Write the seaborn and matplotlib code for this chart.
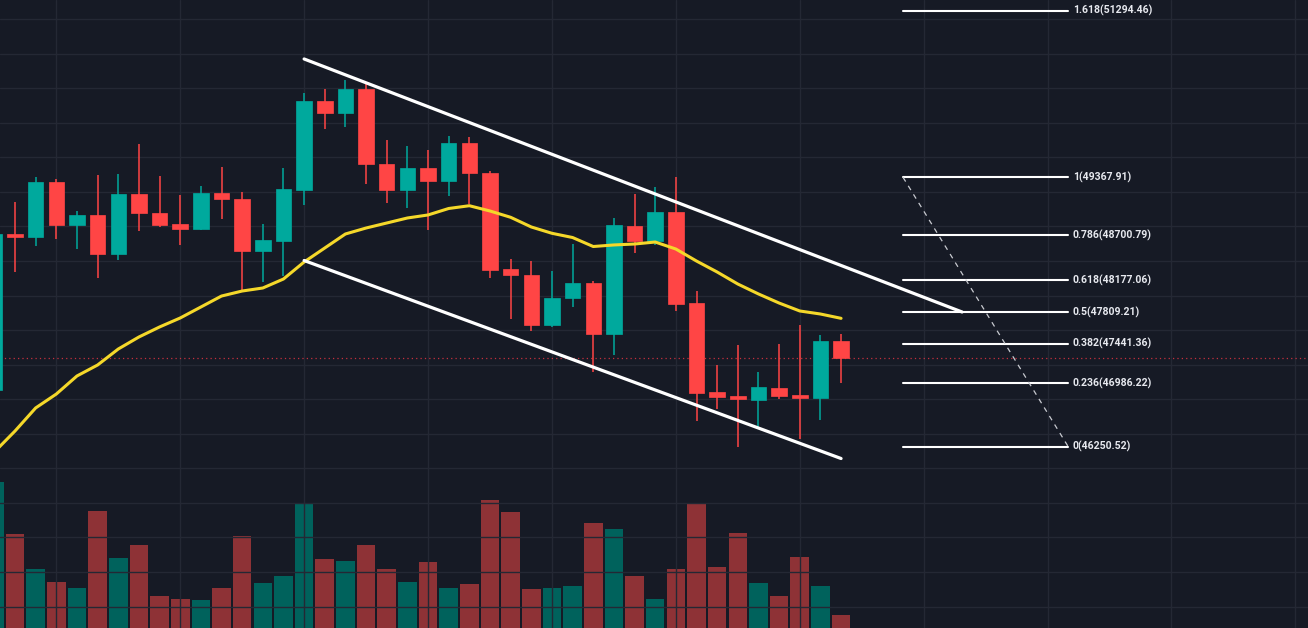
import numpy as np
import pandas as pd
import matplotlib
matplotlib.use("Agg")
import matplotlib.pyplot as plt
import seaborn as sns

# ---------------- data ----------------
opens = [46907, 48715, 48674, 49317, 48812, 48935, 48484, 49171, 48958, 48824, 48770,
         49190, 49120, 48515, 48631, 49225, 50251, 50115, 50386, 49522, 49224, 49476,
         49322, 49761, 49418, 48303, 48237, 47662, 47967, 48145, 47555, 48808, 48634,
         48966, 47913, 46884, 46834, 46791, 46930, 46845, 46814, 47477]
closes = [48715, 48674, 49317, 48812, 48935, 48484, 49171, 48958, 48812, 48773, 49190,
          49120, 48515, 48642, 49233, 50251, 50115, 50386, 49522, 49224, 49476, 49322,
          49761, 49418, 48295, 48234, 47662, 47971, 48145, 47555, 48819, 48634, 48966,
          47905, 46876, 46826, 46799, 46938, 46837, 46814, 47477, 47280]
highs = [48730, 49082, 49375, 49348, 48978, 49394, 49403, 49753, 49383, 49163, 49267,
         49487, 49201, 48831, 49476, 50347, 50390, 50494, 50456, 49796, 49730, 49680,
         49846, 49834, 49444, 48419, 48396, 48284, 48596, 48164, 48894, 49175, 49252,
         49367.91, 48049, 47200, 47424, 47115, 47436, 47659, 47543, 47555]
lows = [46880, 48272, 48576, 48650, 48535, 48206, 48414, 48746, 48789, 48584, 48760,
        48882, 48052, 48153, 48226, 49051, 49930, 49953, 49287, 49067, 49016, 48762,
        49152, 49059, 48199, 47732, 47586, 47639, 47871, 47118, 47312, 48495, 48588,
        47817, 46548, 46687, 46250.52, 46482, 46806, 46336, 46556, 46984]
volumes = [1463, 937, 587, 457, 403, 1170, 703, 833, 320, 293, 283, 397, 923, 447, 520,
           1237, 690, 670, 827, 593, 457, 660, 403, 440, 1280, 1163, 387, 403, 420, 1047,
           990, 520, 293, 587, 1243, 607, 950, 447, 320, 713, 420, 130]
ma20 = [46189, 46432, 46699, 46860, 47069, 47196, 47381, 47520, 47636, 47740, 47867,
        47994, 48052, 48087, 48191, 48388, 48550, 48712, 48781, 48839, 48897, 48932,
        49007, 49039, 48978, 48905, 48793, 48720, 48671, 48567, 48585, 48596, 48619,
        48538, 48399, 48272, 48133, 48018, 47913, 47821, 47786, 47736]

fib_ratios = ["1.618", "1", "0.786", "0.618", "0.5", "0.382", "0.236", "0"]
fib_prices = [51294.46, 49367.91, 48700.79, 48177.06, 47809.21, 47441.36, 46986.22, 46250.52]

channel_x = [15.0, 46.86]
upper_prices = [50737, 47809.21]
lower_x = [15.0, 41.0]
lower_prices = [48405, 46114]

# ---------------- style ----------------
BG = "#161a25"
GRID = "#242834"
UP = "#00a99d"
DOWN = "#ff4545"
UP_VOL = "#00625c"
DOWN_VOL = "#8e3236"
MA_COL = "#f5d82a"

sns.set_theme(style="dark", rc={"axes.facecolor": BG, "figure.facecolor": BG,
                                "savefig.facecolor": BG})
plt.rcParams['font.family'] = ['Roboto', 'DejaVu Sans']

n = len(opens)
idx = np.arange(n)
df = pd.DataFrame({"idx": idx, "open": opens, "close": closes, "high": highs,
                   "low": lows, "volume": volumes, "ma": ma20})
df["dir"] = np.where(df["close"] >= df["open"], "up", "down")

fig = plt.figure(figsize=(13.08, 6.28), dpi=100)
ax = fig.add_axes([0, 0, 1, 1])
axv = ax.twinx()
axv.set_zorder(1)
ax.set_zorder(2)
ax.patch.set_visible(False)
axv.set_facecolor(BG)

# volume
sns.barplot(data=df, x="idx", y="volume", hue="dir",
            palette={"up": UP_VOL, "down": DOWN_VOL}, dodge=False, width=0.9,
            saturation=1, linewidth=0, legend=False, ax=axv)
axv.set_ylim(0, 6280)

# grid
ax.set_yticks(np.arange(44400, 51601, 400))
ax.set_xticks(np.arange(3, 64, 6))
ax.grid(True, color=GRID, lw=1.0, zorder=0)
axv.grid(False)

# candles
cols = [UP if d == "up" else DOWN for d in df["dir"]]
ax.vlines(idx, df["low"], df["high"], colors=cols, lw=1.1, zorder=3)
bottoms = np.minimum(df["open"], df["close"])
heights = np.maximum(np.abs(df["close"] - df["open"]), 12)
ax.bar(idx, heights, bottom=bottoms, width=0.75, color=cols, edgecolor=cols,
       lw=0.5, zorder=4)

# moving average
sns.lineplot(data=df, x="idx", y="ma", color=MA_COL, lw=2.2, ax=ax, zorder=5)

# current price line
ax.axhline(closes[-1], color="#f23645", lw=0.9, ls=(0, (1, 2.5)), alpha=0.8, zorder=2)

# channel
ax.plot(channel_x, upper_prices, color="white", lw=2.3, solid_capstyle="round", zorder=6)
ax.plot(lower_x, lower_prices, color="white", lw=2.3, solid_capstyle="round", zorder=6)

# fibonacci
fib_start, fib_end = 44.0, 52.0
for r, p in zip(fib_ratios, fib_prices):
    ax.plot([fib_start, fib_end], [p, p], color="white", lw=1.5, zorder=6)
    ax.text(fib_end + 0.22, p, f"{r}({p:.2f})", color="#e6e8ee", fontsize=7.6,
            fontweight="bold", ha="left", va="center", zorder=7)
ax.plot([fib_start, fib_end], [fib_prices[1], fib_prices[-1]], color="#c8cad0",
        lw=0.9, ls=(0, (4, 4)), zorder=6)

ax.set_xlim(0.2736, 63.61)
ax.set_ylim(44152.8, 51419.4)
for a in (ax, axv):
    a.set_xlabel("")
    a.set_ylabel("")
    a.tick_params(left=False, right=False, bottom=False, top=False,
                  labelleft=False, labelright=False, labelbottom=False)
    for s in a.spines.values():
        s.set_visible(False)

fig.savefig("out.png", dpi=100, facecolor=BG)
